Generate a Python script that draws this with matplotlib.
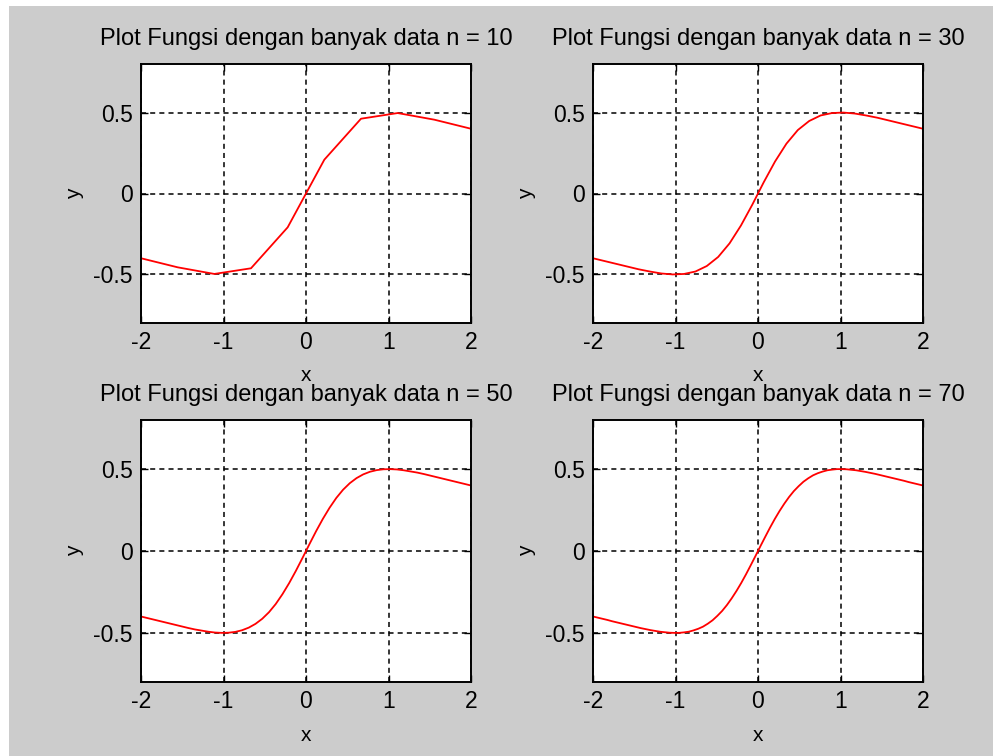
import numpy as np
import matplotlib
matplotlib.use('Agg')
import matplotlib.pyplot as plt
from matplotlib.patches import Rectangle

n_values = [10, 30, 50, 70]

y_n10 = [-0.400, -0.456, -0.497, -0.462, -0.209, 0.209, 0.462, 0.497, 0.456, 0.400]

y_n30 = [-0.400, -0.417, -0.434, -0.451, -0.468, -0.482, -0.494, -0.500, -0.497, -0.482,
         -0.448, -0.392, -0.308, -0.198, -0.069, 0.069, 0.198, 0.308, 0.392, 0.448,
         0.482, 0.497, 0.500, 0.494, 0.482, 0.468, 0.451, 0.434, 0.417, 0.400]

y_n50 = [-0.400, -0.410, -0.420, -0.430, -0.440, -0.450, -0.460, -0.470, -0.479, -0.486,
         -0.493, -0.498, -0.500, -0.499, -0.494, -0.484, -0.468, -0.445, -0.414, -0.374,
         -0.324, -0.264, -0.196, -0.121, -0.041, 0.041, 0.121, 0.196, 0.264, 0.324,
         0.374, 0.414, 0.445, 0.468, 0.484, 0.494, 0.499, 0.500, 0.498, 0.493,
         0.486, 0.479, 0.470, 0.460, 0.450, 0.440, 0.430, 0.420, 0.410, 0.400]

y_n70 = [-0.400, -0.407, -0.414, -0.421, -0.429, -0.436, -0.443, -0.450, -0.457, -0.464,
         -0.471, -0.477, -0.483, -0.488, -0.493, -0.496, -0.499, -0.500, -0.500, -0.497,
         -0.493, -0.485, -0.475, -0.462, -0.444, -0.423, -0.396, -0.366, -0.330, -0.289,
         -0.244, -0.195, -0.142, -0.086, -0.029, 0.029, 0.086, 0.142, 0.195, 0.244,
         0.289, 0.330, 0.366, 0.396, 0.423, 0.444, 0.462, 0.475, 0.485, 0.493,
         0.497, 0.500, 0.500, 0.499, 0.496, 0.493, 0.488, 0.483, 0.477, 0.471,
         0.464, 0.457, 0.450, 0.443, 0.436, 0.429, 0.421, 0.414, 0.407, 0.400]

series = [y_n10, y_n30, y_n50, y_n70]
x_ticks = [-2, -1, 0, 1, 2]
y_ticks = [-0.5, 0, 0.5]
y_tick_labels = ['-0.5', '0', '0.5']

plt.rcParams['font.family'] = ['Liberation Sans', 'DejaVu Sans']
plt.rcParams['axes.unicode_minus'] = False

W, H = 1003, 756
fig = plt.figure(figsize=(W / 100, H / 100), dpi=100)
fig.patch.set_facecolor('white')
fig.add_artist(Rectangle((9 / W, 0), 984 / W, 750 / H, transform=fig.transFigure,
                         facecolor='#cccccc', edgecolor='none', zorder=-10))

# axes boxes in pixels: left, top, right, bottom
boxes = [(141, 64, 471, 323), (593, 64, 923, 323),
         (141, 420, 471, 682), (593, 420, 923, 682)]

for box, n, y in zip(boxes, n_values, series):
    l, t, r, b = box
    ax = fig.add_axes([l / W, 1 - b / H, (r - l) / W, (b - t) / H])
    x = np.linspace(-2, 2, len(y))
    ax.plot(x, y, color='red', linewidth=1.3)
    ax.set_xlim(-2, 2)
    ax.set_ylim(-0.8, 0.8)
    ax.set_xticks(x_ticks)
    ax.set_yticks(y_ticks)
    ax.set_yticklabels(y_tick_labels)
    ax.grid(True, color='black', linestyle=(0, (3.3, 2.7)), linewidth=1.1)
    ax.tick_params(direction='in', length=5, width=1, labelsize=16.5, pad=6,
                   top=True, right=True)
    for s in ax.spines.values():
        s.set_linewidth(1.4)
    ax.set_title('Plot Fungsi dengan banyak data n = %d' % n, fontsize=17, pad=13.5)
    ax.set_xlabel('x', fontsize=15)
    ax.xaxis.label.set_va('baseline')
    ax.xaxis.set_label_coords(0.5, -0.225)
    ax.set_ylabel('y', fontsize=15)
    ax.yaxis.label.set_va('center')
    ax.yaxis.set_label_coords(-0.2, 0.5)

fig.savefig('out.png', dpi=100)
